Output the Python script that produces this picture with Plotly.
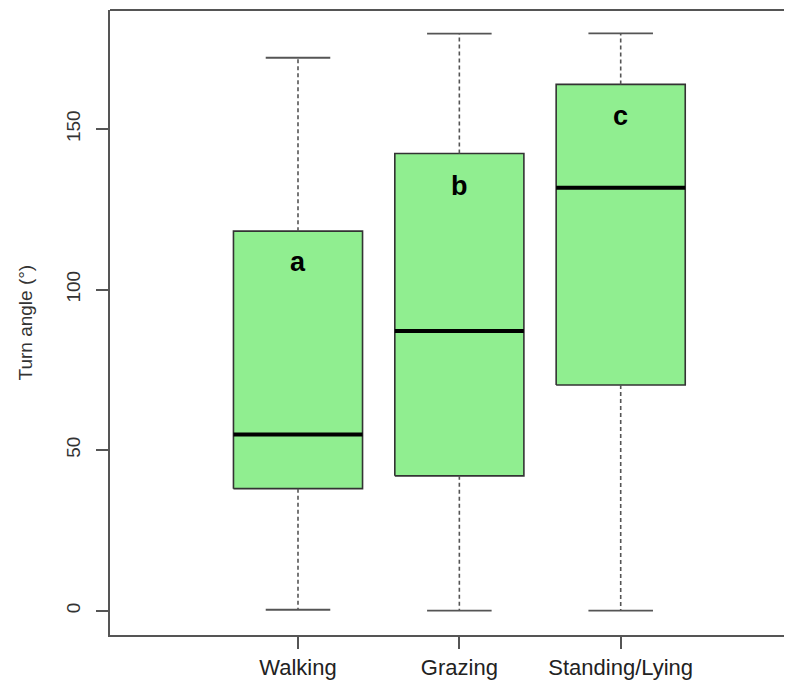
import plotly.graph_objects as go

categories = ["Walking", "Grazing", "Standing/Lying"]
lower_whisker = [0.3, 0.0, 0.0]
q1 = [38.0, 42.0, 70.3]
median = [54.9, 87.1, 131.7]
q3 = [118.2, 142.4, 163.9]
upper_whisker = [172.2, 179.7, 179.8]
letters = ["a", "b", "c"]
letter_y = [108.5, 132.2, 154.0]
y_ticks = [0, 50, 100, 150]

positions = [1, 2, 3]
half_box = 0.4
half_cap = 0.2

FILL = "#90EE90"
EDGE = "#333333"
WHISK = "#555555"
FONT = "Arial, Liberation Sans, sans-serif"

fig = go.Figure()

for i, p in enumerate(positions):
    # box
    fig.add_trace(go.Scatter(
        x=[p - half_box, p + half_box, p + half_box, p - half_box, p - half_box],
        y=[q1[i], q1[i], q3[i], q3[i], q1[i]],
        mode="lines", fill="toself", fillcolor=FILL,
        line=dict(color=EDGE, width=1.6), hoverinfo="skip", showlegend=False))
    # whiskers
    fig.add_trace(go.Scatter(
        x=[p, p, None, p, p],
        y=[q3[i], upper_whisker[i], None, q1[i], lower_whisker[i]],
        mode="lines", line=dict(color=WHISK, width=1.6, dash="4px,3px"),
        hoverinfo="skip", showlegend=False))
    # caps
    fig.add_trace(go.Scatter(
        x=[p - half_cap, p + half_cap, None, p - half_cap, p + half_cap],
        y=[upper_whisker[i], upper_whisker[i], None, lower_whisker[i], lower_whisker[i]],
        mode="lines", line=dict(color=WHISK, width=1.8),
        hoverinfo="skip", showlegend=False))
    # median
    fig.add_trace(go.Scatter(
        x=[p - half_box, p + half_box], y=[median[i], median[i]],
        mode="lines", line=dict(color="black", width=4),
        hoverinfo="skip", showlegend=False))
    fig.add_annotation(x=p, y=letter_y[i], text="<b>%s</b>" % letters[i],
                       showarrow=False, font=dict(family=FONT, size=27, color="black"),
                       xanchor="center", yanchor="middle")

fig.add_annotation(xref="paper", yref="paper",
                   x=(17 - 102) / 682, y=0.5, text="Turn angle (°)", textangle=-90,
                   showarrow=False, font=dict(family=FONT, size=19, color="#333333"),
                   xanchor="center", yanchor="middle")

fig.add_shape(type="line", xref="paper", yref="paper", x0=0, x1=1, y0=1, y1=1,
              line=dict(color="#555555", width=2))

fig.update_xaxes(range=[-0.1652, 4.0617], tickmode="array", tickvals=positions,
                 ticktext=categories, ticks="outside", ticklen=12, tickwidth=1.6,
                 tickcolor="#555555", showline=True, linecolor="#555555", linewidth=2,
                 showgrid=False, zeroline=False, mirror=False,
                 tickfont=dict(family=FONT, size=22, color="#222222"))
fig.update_yaxes(range=[-7.57, 187.07], tickmode="array", tickvals=y_ticks,
                 ticktext=[str(v) for v in y_ticks], ticks="outside", ticklen=12,
                 tickwidth=1.6, tickcolor="#555555", showline=True, linecolor="#555555",
                 linewidth=2, showgrid=False, zeroline=False, tickangle=-90,
                 ticklabelstandoff=8,
                 tickfont=dict(family=FONT, size=19, color="#333333"))

fig.update_layout(width=784, height=678, plot_bgcolor="white", paper_bgcolor="white",
                  margin=dict(l=102, r=0, t=2, b=51), showlegend=False)

fig.write_html("out.html")
